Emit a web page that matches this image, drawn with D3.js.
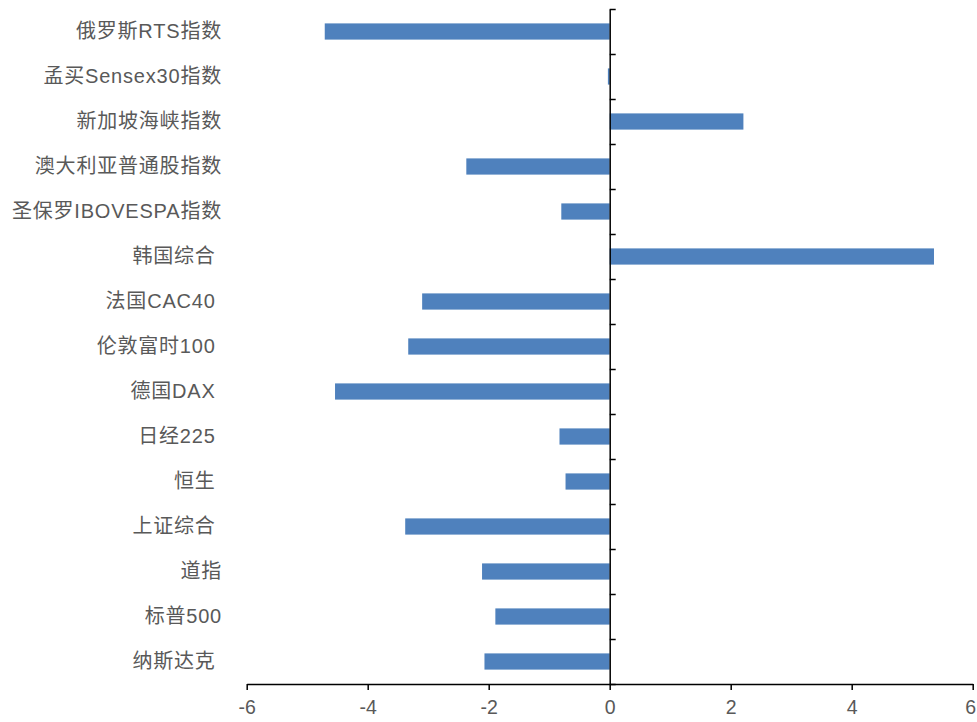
<!DOCTYPE html>
<html>
<head>
<meta charset="utf-8">
<script src="https://cdn.jsdelivr.net/npm/d3@7/dist/d3.min.js"></script>
<style>
  html, body { margin: 0; padding: 0; background: #fff; }
  svg text { white-space: pre; }
</style>
</head>
<body>
<svg id="chart" width="977" height="722"></svg>
<script>
// Data
const categories = [
  "俄罗斯RTS指数", "孟买Sensex30指数", "新加坡海峡指数", "澳大利亚普通股指数",
  "圣保罗IBOVESPA指数", "韩国综合 ", "法国CAC40 ", "伦敦富时100 ", "德国DAX ",
  "日经225 ", "恒生 ", "上证综合 ", "道指", "标普500", "纳斯达克 "
];
const values = [
  -4.71, -0.03, 2.21, -2.37, -0.80, 5.36, -3.10, -3.33, -4.54,
  -0.83, -0.73, -3.38, -2.11, -1.89, -2.07
];
const xTicks = [-6, -4, -2, 0, 2, 4, 6];

const svg = d3.select("#chart");
const font = "'Liberation Sans', Arial, 'Noto Sans CJK SC', sans-serif";
const textColor = "#595959";

const x = d3.scaleLinear().domain([-6, 6]).range([246.7, 972.7]);
const y = d3.scaleBand().domain(categories).range([9, 684]).paddingInner(0.64).paddingOuter(0.32);
const yEdge = d3.scaleLinear().domain([0, categories.length]).range([9, 684]);

// Bars
svg.append("g").selectAll("rect").data(values).join("rect")
  .attr("x", d => Math.min(x(0), x(d)))
  .attr("width", d => Math.abs(x(d) - x(0)))
  .attr("y", (d, i) => y(categories[i]))
  .attr("height", y.bandwidth())
  .attr("fill", "#4F81BD");

// Bottom axis
const gx = svg.append("g").attr("transform", `translate(0,${yEdge(categories.length)})`)
  .call(d3.axisBottom(x).tickValues(xTicks).tickFormat(d3.format("d")).tickSize(6).tickSizeOuter(0).tickPadding(10));
gx.select(".domain").attr("stroke", "#000").attr("stroke-width", 1.5);
gx.selectAll(".tick line").attr("stroke", "#000").attr("stroke-width", 1.5);
gx.selectAll(".tick text").attr("font-family", font).attr("font-size", 19.5).attr("fill", textColor)
  .text(d => d < 0 ? "-" + Math.abs(d) : String(d))
  .attr("dx", (d, i, n) => i === n.length - 1 ? -2.5 : 0);

// Vertical axis at 0 with ticks at category boundaries
const gy = svg.append("g").attr("transform", `translate(${x(0)},0)`)
  .call(d3.axisRight(yEdge).tickValues(d3.range(0, categories.length + 1)).tickFormat("").tickSize(6).tickSizeOuter(0));
gy.select(".domain").attr("stroke", "#000").attr("stroke-width", 1.5);
gy.selectAll(".tick line").attr("stroke", "#000").attr("stroke-width", 1.5);

// Category labels
const gl = svg.append("g").attr("transform", "translate(222,0)")
  .call(d3.axisLeft(y).tickSize(0).tickPadding(0));
gl.select(".domain").remove();
gl.selectAll(".tick text").attr("font-family", font).attr("font-size", 20)
  .attr("letter-spacing", "0.8px").attr("fill", textColor);
</script>
</body>
</html>
